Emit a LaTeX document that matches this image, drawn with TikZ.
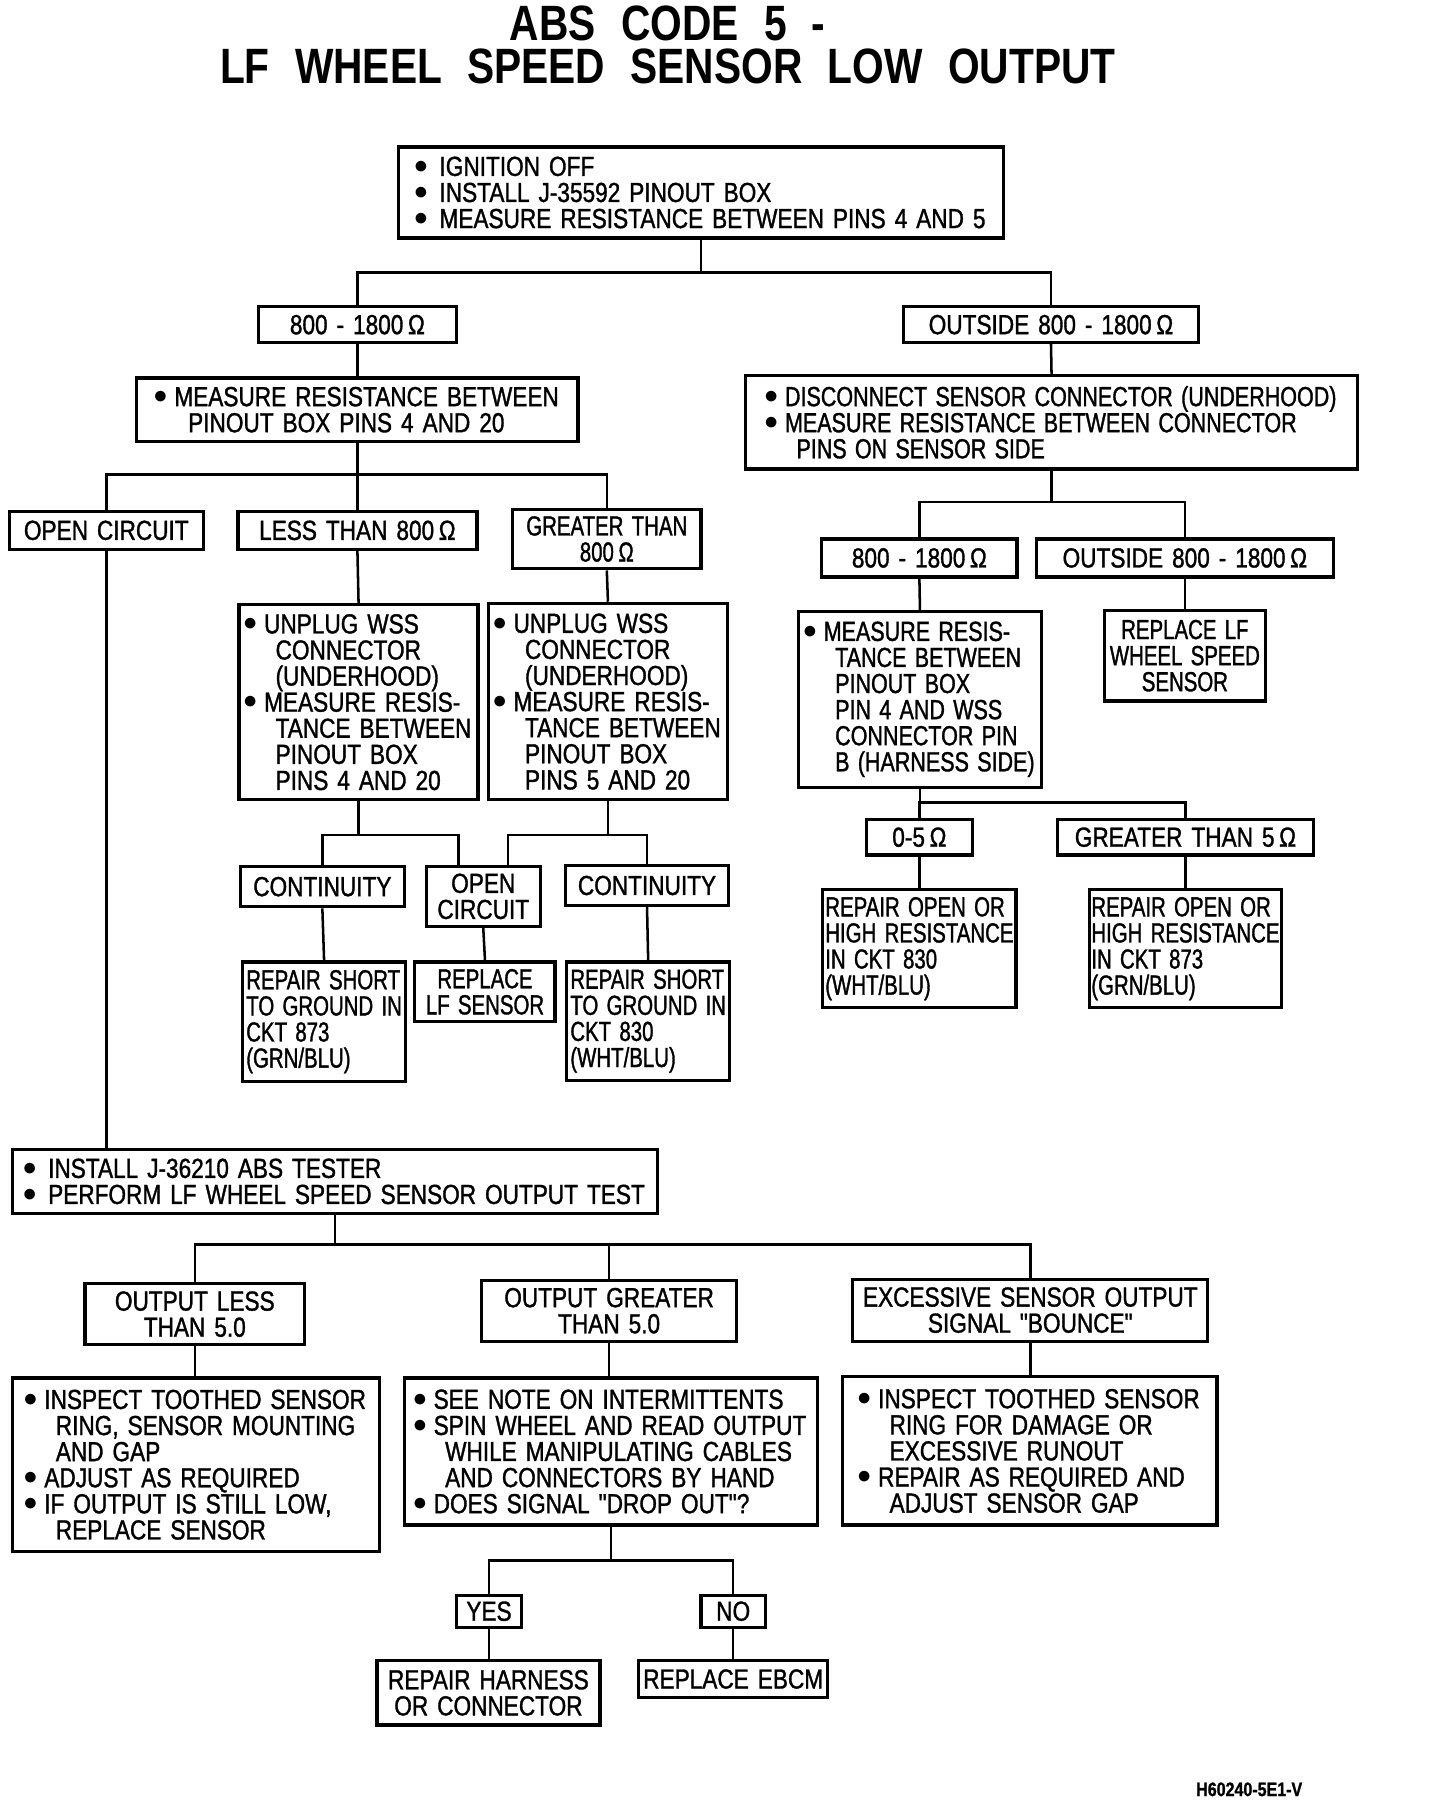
\documentclass[tikz,border=0pt]{standalone}
\usepackage{fontspec}
\setmainfont{Liberation Sans}[FakeStretch=0.82, FakeBold=1.2, Ligatures=TeXOff]
\newfontfamily\nfont{Liberation Sans}[FakeStretch=0.74, FakeBold=1.2, Ligatures=TeXOff]
\newfontfamily\mfont{Liberation Sans}[FakeStretch=0.78, FakeBold=1.2, Ligatures=TeXOff]
\newfontfamily\tfont{Liberation Sans Bold}[FakeStretch=0.82, Ligatures=TeXOff]
\newcommand\bodyfont{\fontsize{12}{11.35}\selectfont\spaceskip=3.9pt plus 1pt minus 1pt\relax}
\newcommand\narrowfont{\nfont\fontsize{12}{11.35}\selectfont\spaceskip=3.6pt plus 1pt minus 1pt\relax}
\newcommand\midfont{\mfont\fontsize{12}{11.35}\selectfont\spaceskip=3.6pt plus 1pt minus 1pt\relax}
\newcommand\titlefont{\tfont\fontsize{21.6}{19}\selectfont\spaceskip=11pt\relax}
\newcommand\bul{\makebox[8pt][l]{\hspace{-1pt}\raisebox{1.2pt}{$\bullet$}}}
\newcommand\ind{\hspace*{13pt}}
\newcommand\om{\,Ω}
\tikzset{
  bx/.style={draw, line width=1.4pt, inner sep=2pt, font=\bodyfont, align=center},
  nb/.style={font=\narrowfont, inner sep=0.5pt},
  mb/.style={font=\midfont, inner sep=1pt},
  ln/.style={line width=1.1pt},
  ttl/.style={font=\titlefont, inner sep=0pt, align=center, anchor=base}
}
\newcommand\mkbox[7][]{%
  \pgfmathsetmacro\bw{(#5-#3)*0.5}%
  \pgfmathsetmacro\bh{(#6-#4)*0.5}%
  \node[bx, #1, minimum width=\bw pt, minimum height=\bh pt] (#2) at ({(#3+#5)/2},{(#4+#6)/2}) {#7};}
\begin{document}
\begin{tikzpicture}[x=0.5pt, y=-0.5pt]
\useasboundingbox (0,0) rectangle (1253,1568);
% title
\node[ttl] (t1) at (581,73) {ABS CODE 5 -\\LF WHEEL SPEED SENSOR LOW OUTPUT};
% boxes
\mkbox[align=left]{A}{347}{128}{873}{207}{\bul\hspace{2pt}IGNITION OFF\\ \bul\hspace{2pt}INSTALL J-35592 PINOUT BOX\\ \bul\hspace{2pt}MEASURE RESISTANCE BETWEEN PINS 4 AND 5}
\mkbox{B1}{225}{267}{397}{298}{800 - 1800\om}
\mkbox{B2}{786}{267}{1043}{298}{OUTSIDE 800 - 1800\om}
\mkbox[align=left]{C1}{119}{329}{503}{384}{\bul MEASURE RESISTANCE BETWEEN\\ \hspace*{14pt}PINOUT BOX PINS 4 AND 20}
\mkbox[mb, align=left]{C2}{649}{327}{1181}{408}{\bul DISCONNECT SENSOR CONNECTOR (UNDERHOOD)\\ \bul MEASURE RESISTANCE BETWEEN CONNECTOR\\ \hspace*{13pt}PINS ON SENSOR SIDE}
\mkbox{D1}{8}{445}{177}{478}{OPEN CIRCUIT}
\mkbox{D2}{207}{445}{415}{478}{LESS THAN 800\om}
\mkbox[nb]{D3}{446}{443}{610}{495}{GREATER THAN\\800\om}
\mkbox{E1}{715}{469}{885}{502}{800 - 1800\om}
\mkbox{E2}{902}{469}{1160}{502}{OUTSIDE 800 - 1800\om}
\mkbox[align=left]{F1}{208}{526}{416}{696}{\bul UNPLUG WSS\\ \ind CONNECTOR\\ \ind (UNDERHOOD)\\ \bul MEASURE RESIS-\\ \ind TANCE BETWEEN\\ \ind PINOUT BOX\\ \ind PINS 4 AND 20}
\mkbox[align=left]{F2}{425}{525}{633}{696}{\bul UNPLUG WSS\\ \ind CONNECTOR\\ \ind (UNDERHOOD)\\ \bul MEASURE RESIS-\\ \ind TANCE BETWEEN\\ \ind PINOUT BOX\\ \ind PINS 5 AND 20}
\mkbox[mb, align=left]{G1}{695}{532}{906}{685}{\bul MEASURE RESIS-\\ \ind TANCE BETWEEN\\ \ind PINOUT BOX\\ \ind PIN 4 AND WSS\\ \ind CONNECTOR PIN\\ \ind B (HARNESS SIDE)}
\mkbox[nb]{G2}{961}{531}{1101}{610}{REPLACE LF\\WHEEL SPEED\\SENSOR}
\mkbox{H1}{209}{754}{352}{789}{CONTINUITY}
\mkbox{H2}{371}{754}{470}{806}{OPEN\\CIRCUIT}
\mkbox{H3}{492}{753}{634}{788}{CONTINUITY}
\mkbox[nb, align=left]{I1}{211}{837}{353}{941}{REPAIR SHORT\\TO GROUND IN\\CKT 873\\(GRN/BLU)}
\mkbox[nb]{I2}{361}{837}{483}{889}{REPLACE\\LF SENSOR}
\mkbox[nb, align=left]{I3}{493}{837}{635}{940}{REPAIR SHORT\\TO GROUND IN\\CKT 830\\(WHT/BLU)}
\mkbox{J1}{754}{713}{846}{744}{0-5\om}
\mkbox{J2}{920}{713}{1143}{744}{GREATER THAN 5\om}
\mkbox[nb, align=left]{K1}{716}{774}{884}{877}{REPAIR OPEN OR\\HIGH RESISTANCE\\IN CKT 830\\(WHT/BLU)}
\mkbox[nb, align=left]{K2}{948}{774}{1115}{877}{REPAIR OPEN OR\\HIGH RESISTANCE\\IN CKT 873\\(GRN/BLU)}
\mkbox[align=left]{L}{11}{1000}{572}{1056}{\bul\hspace{2pt}INSTALL J-36210 ABS TESTER\\ \bul\hspace{2pt}PERFORM LF WHEEL SPEED SENSOR OUTPUT TEST}
\mkbox{M1}{74}{1117}{265}{1170}{OUTPUT LESS\\THAN 5.0}
\mkbox{M2}{419}{1114}{641}{1167}{OUTPUT GREATER\\THAN 5.0}
\mkbox{M3}{742}{1113}{1051}{1167}{EXCESSIVE SENSOR OUTPUT\\SIGNAL "BOUNCE"}
\mkbox[align=left]{N1}{11}{1199}{330}{1350}{\bul INSPECT TOOTHED SENSOR\\ \ind RING, SENSOR MOUNTING\\ \ind AND GAP\\ \bul ADJUST AS REQUIRED\\ \bul IF OUTPUT IS STILL LOW,\\ \ind REPLACE SENSOR}
\mkbox[align=left]{N2}{352}{1199}{711}{1327}{\bul SEE NOTE ON INTERMITTENTS\\ \bul SPIN WHEEL AND READ OUTPUT\\ \ind WHILE MANIPULATING CABLES\\ \ind AND CONNECTORS BY HAND\\ \bul DOES SIGNAL "DROP OUT"?}
\mkbox[align=left]{N3}{733}{1198}{1059}{1327}{\bul INSPECT TOOTHED SENSOR\\ \ind RING FOR DAMAGE OR\\ \ind EXCESSIVE RUNOUT\\ \bul REPAIR AS REQUIRED AND\\ \ind ADJUST SENSOR GAP}
\mkbox{O1}{397}{1388}{454}{1416}{YES}
\mkbox{O2}{610}{1388}{666}{1416}{NO}
\mkbox{P1}{328}{1445}{522}{1501}{REPAIR HARNESS\\OR CONNECTOR}
\mkbox{P2}{556}{1445}{720}{1477}{REPLACE EBCM}
\node[font=\fontsize{8.5}{10}\selectfont\bfseries, inner sep=0pt] (ft) at (1087,1557) {H60240-5E1-V};
% junction coordinates
\coordinate (jA) at (A.south |- 0,237);
\coordinate (jC1) at (C1.south |- 0,413);
\coordinate (jC2) at (C2.south |- 0,437);
\coordinate (jF1) at (F1.south |- 0,726.6);
\coordinate (jF2) at (F2.south |- 0,726.6);
\coordinate (jG1) at (G1.south |- 0,698.5);
\coordinate (jL) at (L.south |- 0,1083);
\coordinate (jN2) at (N2.south |- 0,1358);
\coordinate (h2a) at (399,0 |- H2.north);
\coordinate (h2b) at (442,0 |- H2.north);
% connectors
\draw[ln] (A.south) -- (jA);
\draw[ln] (B1.north) |- (B2.north |- jA) -- (B2.north);
\draw[ln] (B1.south) -- (C1.north);
\draw[ln] (B2.south) -- (C2.north);
\draw[ln] (C1.south) -- (jC1);
\draw[ln] (D1.north) |- (D3.north |- jC1) -- (D3.north);
\draw[ln] (D2.north) -- (D2.north |- jC1);
\draw[ln] (C2.south) -- (jC2);
\draw[ln] (E1.north) |- (E2.north |- jC2) -- (E2.north);
\draw[ln] (D2.south) -- (F1.north);
\draw[ln] (D3.south) -- (F2.north);
\draw[ln] (E1.south) -- (G1.north);
\draw[ln] (E2.south) -- (G2.north);
\draw[ln] (F1.south) -- (jF1);
\draw[ln] (H1.north) |- (h2a |- jF1) -- (h2a);
\draw[ln] (F2.south) -- (jF2);
\draw[ln] (h2b) |- (H3.north |- jF2) -- (H3.north);
\draw[ln] (H1.south) -- (I1.north);
\draw[ln] (H2.south) -- (I2.north);
\draw[ln] (H3.south) -- (I3.north);
\draw[ln] (G1.south) -- (jG1);
\draw[ln] (J1.north) |- (J2.north |- jG1) -- (J2.north);
\draw[ln] (J1.south) -- (K1.north);
\draw[ln] (J2.south) -- (K2.north);
\draw[ln] (D1.south) -- (D1.south |- L.north);
\draw[ln] (L.south) -- (jL);
\draw[ln] (M1.north) |- (M3.north |- jL) -- (M3.north);
\draw[ln] (M2.north) -- (M2.north |- jL);
\draw[ln] (M1.south) -- (M1.south |- N1.north);
\draw[ln] (M2.south) -- (M2.south |- N2.north);
\draw[ln] (M3.south) -- (M3.south |- N3.north);
\draw[ln] (N2.south) -- (jN2);
\draw[ln] (O1.north) |- (O2.north |- jN2) -- (O2.north);
\draw[ln] (O1.south) -- (O1.south |- P1.north);
\draw[ln] (O2.south) -- (O2.south |- P2.north);
\end{tikzpicture}
\end{document}
